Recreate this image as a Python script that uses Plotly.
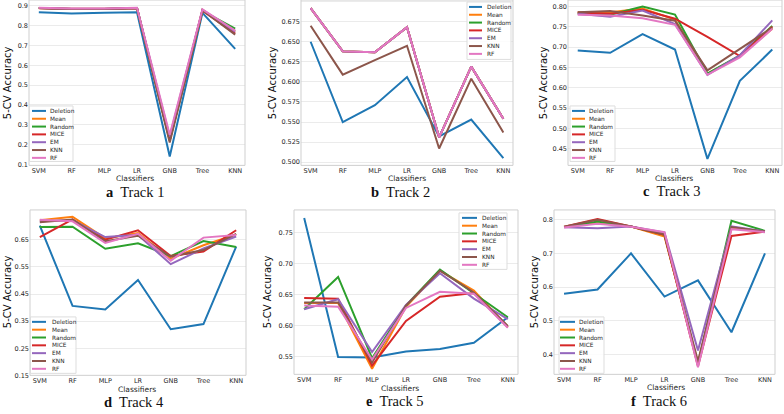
import plotly.graph_objects as go

W, H = 784, 414

classifiers = ["SVM", "RF", "MLP", "LR", "GNB", "Tree", "KNN"]
methods = ["Deletion", "Mean", "Random", "MICE", "EM", "KNN", "RF"]
colors = ["#1f77b4", "#ff7f0e", "#2ca02c", "#d62728", "#9467bd", "#8c564b", "#e377c2"]

# Track 1
t1_deletion = [0.868, 0.862, 0.865, 0.868, 0.140, 0.865, 0.683]
t1_mean     = [0.890, 0.886, 0.886, 0.890, 0.220, 0.880, 0.770]
t1_random   = [0.889, 0.885, 0.885, 0.889, 0.220, 0.875, 0.785]
t1_mice     = [0.888, 0.884, 0.884, 0.888, 0.230, 0.876, 0.760]
t1_em       = [0.890, 0.886, 0.886, 0.890, 0.240, 0.880, 0.770]
t1_knn      = [0.889, 0.885, 0.885, 0.889, 0.210, 0.878, 0.755]
t1_rf       = [0.891, 0.887, 0.887, 0.891, 0.250, 0.883, 0.775]

# Track 2
t2_deletion = [0.650, 0.550, 0.571, 0.606, 0.532, 0.553, 0.505]
t2_mean     = [0.692, 0.638, 0.637, 0.668, 0.531, 0.619, 0.554]
t2_random   = [0.692, 0.638, 0.637, 0.668, 0.531, 0.619, 0.554]
t2_mice     = [0.692, 0.638, 0.637, 0.668, 0.531, 0.619, 0.554]
t2_em       = [0.692, 0.638, 0.637, 0.668, 0.531, 0.619, 0.554]
t2_knn      = [0.670, 0.609, 0.627, 0.645, 0.517, 0.604, 0.537]
t2_rf       = [0.692, 0.638, 0.637, 0.668, 0.531, 0.619, 0.554]

# Track 3
t3_deletion = [0.692, 0.686, 0.732, 0.694, 0.425, 0.617, 0.694]
t3_mean     = [0.785, 0.786, 0.795, 0.768, 0.635, 0.678, 0.745]
t3_random   = [0.783, 0.780, 0.800, 0.780, 0.635, 0.680, 0.752]
t3_mice     = [0.785, 0.782, 0.792, 0.770, 0.725, 0.678, 0.750]
t3_em       = [0.782, 0.775, 0.790, 0.757, 0.632, 0.680, 0.766]
t3_knn      = [0.786, 0.789, 0.778, 0.765, 0.643, 0.695, 0.748]
t3_rf       = [0.780, 0.778, 0.771, 0.755, 0.632, 0.675, 0.745]

# Track 4
t4_deletion = [0.702, 0.406, 0.393, 0.502, 0.320, 0.339, 0.625]
t4_mean     = [0.722, 0.735, 0.655, 0.675, 0.580, 0.630, 0.670]
t4_random   = [0.697, 0.698, 0.617, 0.637, 0.590, 0.645, 0.623]
t4_mice     = [0.660, 0.725, 0.650, 0.685, 0.590, 0.607, 0.685]
t4_em       = [0.718, 0.722, 0.660, 0.668, 0.560, 0.618, 0.662]
t4_knn      = [0.715, 0.725, 0.645, 0.665, 0.588, 0.612, 0.672]
t4_rf       = [0.724, 0.718, 0.638, 0.672, 0.573, 0.658, 0.668]

# Track 5
t5_deletion = [0.773, 0.549, 0.548, 0.558, 0.562, 0.572, 0.613]
t5_mean     = [0.636, 0.636, 0.530, 0.630, 0.688, 0.656, 0.598]
t5_random   = [0.626, 0.678, 0.547, 0.632, 0.690, 0.652, 0.613]
t5_mice     = [0.644, 0.643, 0.535, 0.607, 0.646, 0.652, 0.597]
t5_em       = [0.626, 0.642, 0.557, 0.633, 0.684, 0.643, 0.610]
t5_knn      = [0.637, 0.637, 0.540, 0.632, 0.688, 0.653, 0.599]
t5_rf       = [0.632, 0.630, 0.545, 0.628, 0.654, 0.651, 0.596]

# Track 6
t6_deletion = [0.580, 0.593, 0.700, 0.572, 0.620, 0.466, 0.700]
t6_mean     = [0.778, 0.790, 0.780, 0.750, 0.375, 0.775, 0.765]
t6_random   = [0.778, 0.795, 0.780, 0.755, 0.370, 0.797, 0.767]
t6_mice     = [0.779, 0.802, 0.780, 0.755, 0.365, 0.752, 0.765]
t6_em       = [0.778, 0.775, 0.780, 0.762, 0.412, 0.780, 0.765]
t6_knn      = [0.779, 0.800, 0.780, 0.757, 0.380, 0.778, 0.765]
t6_rf       = [0.777, 0.788, 0.779, 0.763, 0.362, 0.772, 0.763]

tracks = [
    [t1_deletion, t1_mean, t1_random, t1_mice, t1_em, t1_knn, t1_rf],
    [t2_deletion, t2_mean, t2_random, t2_mice, t2_em, t2_knn, t2_rf],
    [t3_deletion, t3_mean, t3_random, t3_mice, t3_em, t3_knn, t3_rf],
    [t4_deletion, t4_mean, t4_random, t4_mice, t4_em, t4_knn, t4_rf],
    [t5_deletion, t5_mean, t5_random, t5_mice, t5_em, t5_knn, t5_rf],
    [t6_deletion, t6_mean, t6_random, t6_mice, t6_em, t6_knn, t6_rf],
]

letters = ["a", "b", "c", "d", "e", "f"]
track_names = ["Track 1", "Track 2", "Track 3", "Track 4", "Track 5", "Track 6"]

ticks1 = [0.1, 0.2, 0.3, 0.4, 0.5, 0.6, 0.7, 0.8, 0.9]
ticks2 = [0.500, 0.525, 0.550, 0.575, 0.600, 0.625, 0.650, 0.675, 0.700]
ticks3 = [0.45, 0.50, 0.55, 0.60, 0.65, 0.70, 0.75, 0.80]
ticks4 = [0.15, 0.25, 0.35, 0.45, 0.55, 0.65]
ticks5 = [0.55, 0.60, 0.65, 0.70, 0.75]
ticks6 = [0.4, 0.5, 0.6, 0.7, 0.8]

# layout geometry (pixels)
panels = [
    dict(box=(29, 245, 0, 167), yr=(0.095, 0.93), ticks=ticks1, fmt=".1f",
         leg=(29.5, 73, 107, 163), legline=(32, 46), legtext=48,
         cap=(135, 194), xt=(135, 180), yt=(7, 84)),
    dict(box=(301, 513, 0, 167), yr=(0.496, 0.702), ticks=ticks2, fmt=".3f",
         leg=(467, 511, 2, 60), legline=(469, 482), legtext=485,
         cap=(400, 194), xt=(407, 180), yt=(272, 84)),
    dict(box=(568, 782, 0, 167), yr=(0.409, 0.816), ticks=ticks3, fmt=".2f",
         leg=(570, 615, 107, 163), legline=(572, 585), legtext=587,
         cap=(672, 193), xt=(674, 180), yt=(543, 84)),
    dict(box=(30, 246, 212, 379), yr=(0.15, 0.76), ticks=ticks4, fmt=".2f",
         leg=(30.5, 76, 320, 377), legline=(32, 46), legtext=50,
         cap=(134, 406), xt=(137, 393), yt=(7, 295)),
    dict(box=(294, 518, 212, 378), yr=(0.521, 0.786), ticks=ticks5, fmt=".2f",
         leg=(459, 507, 215, 272), legline=(462, 477), legtext=480,
         cap=(395, 405), xt=(400, 392), yt=(267, 295)),
    dict(box=(554, 775, 212, 378), yr=(0.341, 0.829), ticks=ticks6, fmt=".1f",
         leg=(559, 604, 320, 377), legline=(560, 575), legtext=577,
         cap=(659, 405), xt=(666, 391), yt=(534, 295)),
]

def px(x):
    return x / W

def py(y):
    return 1 - y / H

fig = go.Figure()
shapes = []
annotations = []
layout = {}

tickfont = dict(family="DejaVu Sans", size=6.5, color="#262626")

for i, (p, series) in enumerate(zip(panels, tracks)):
    n = "" if i == 0 else str(i + 1)
    x0, x1, y0, y1 = p["box"]
    for m, col, vals in zip(methods, colors, series):
        fig.add_trace(go.Scatter(
            x=list(range(len(classifiers))), y=vals, mode="lines", name=m,
            line=dict(color=col, width=2), showlegend=False,
            xaxis="x" + n, yaxis="y" + n,
        ))
    layout["xaxis" + n] = dict(
        domain=[px(x0), px(x1)], anchor="y" + n, range=[-0.3, 6.3],
        tickmode="array", tickvals=list(range(len(classifiers))), ticktext=classifiers,
        showgrid=False, zeroline=False, showline=False, ticks="",
        tickfont=tickfont, fixedrange=True,
    )
    layout["yaxis" + n] = dict(
        domain=[py(y1), py(y0)], anchor="x" + n, range=list(p["yr"]),
        tickmode="array", tickvals=p["ticks"], tickformat=p["fmt"],
        showgrid=True, gridcolor="#ebebeb", gridwidth=1, zeroline=False,
        showline=False, ticks="", tickfont=tickfont, fixedrange=True,
    )
    # frame
    shapes.append(dict(type="rect", xref="paper", yref="paper",
                       x0=px(x0), x1=px(x1), y0=py(y1), y1=py(y0),
                       line=dict(color="#cfcfcf", width=1), layer="above"))
    # legend box
    lx0, lx1, ly0, ly1 = p["leg"]
    shapes.append(dict(type="rect", xref="paper", yref="paper",
                       x0=px(lx0), x1=px(lx1), y0=py(ly1), y1=py(ly0),
                       line=dict(color="#dddddd", width=1),
                       fillcolor="rgba(255,255,255,0.85)", layer="above"))
    for k, (m, col) in enumerate(zip(methods, colors)):
        yy = ly0 + 5 + k * 7.9
        shapes.append(dict(type="line", xref="paper", yref="paper",
                           x0=px(p["legline"][0]), x1=px(p["legline"][1]),
                           y0=py(yy), y1=py(yy),
                           line=dict(color=col, width=2), layer="above"))
        annotations.append(dict(x=px(p["legtext"]), y=py(yy), xref="paper", yref="paper",
                                text=m, showarrow=False, xanchor="left", yanchor="middle",
                                font=dict(family="DejaVu Sans", size=5.8, color="#262626")))
    # axis titles
    annotations.append(dict(x=px(p["xt"][0]), y=py(p["xt"][1]), xref="paper", yref="paper",
                            text="Classifiers", showarrow=False, xanchor="center", yanchor="middle",
                            font=dict(family="DejaVu Sans", size=7.5, color="#262626")))
    annotations.append(dict(x=px(p["yt"][0]), y=py(p["yt"][1]), xref="paper", yref="paper",
                            text="5-CV Accuracy", showarrow=False, xanchor="center", yanchor="middle",
                            textangle=-90,
                            font=dict(family="DejaVu Sans", size=10, color="#111111")))
    # caption
    annotations.append(dict(x=px(p["cap"][0]), y=py(p["cap"][1]), xref="paper", yref="paper",
                            text="<b>" + letters[i] + "</b>  " + track_names[i],
                            showarrow=False, xanchor="center", yanchor="middle",
                            font=dict(family="Liberation Serif", size=14.5, color="#111111")))

fig.update_layout(
    width=W, height=H, margin=dict(l=0, r=0, t=0, b=0),
    paper_bgcolor="white", plot_bgcolor="white",
    shapes=shapes, annotations=annotations, showlegend=False,
    hovermode=False,
    **layout,
)

fig.write_html(
    "out.html",
    config={"displayModeBar": False, "staticPlot": True},
    post_script="document.body.style.margin='0';document.body.style.padding='0';document.body.style.overflow='hidden';",
)
